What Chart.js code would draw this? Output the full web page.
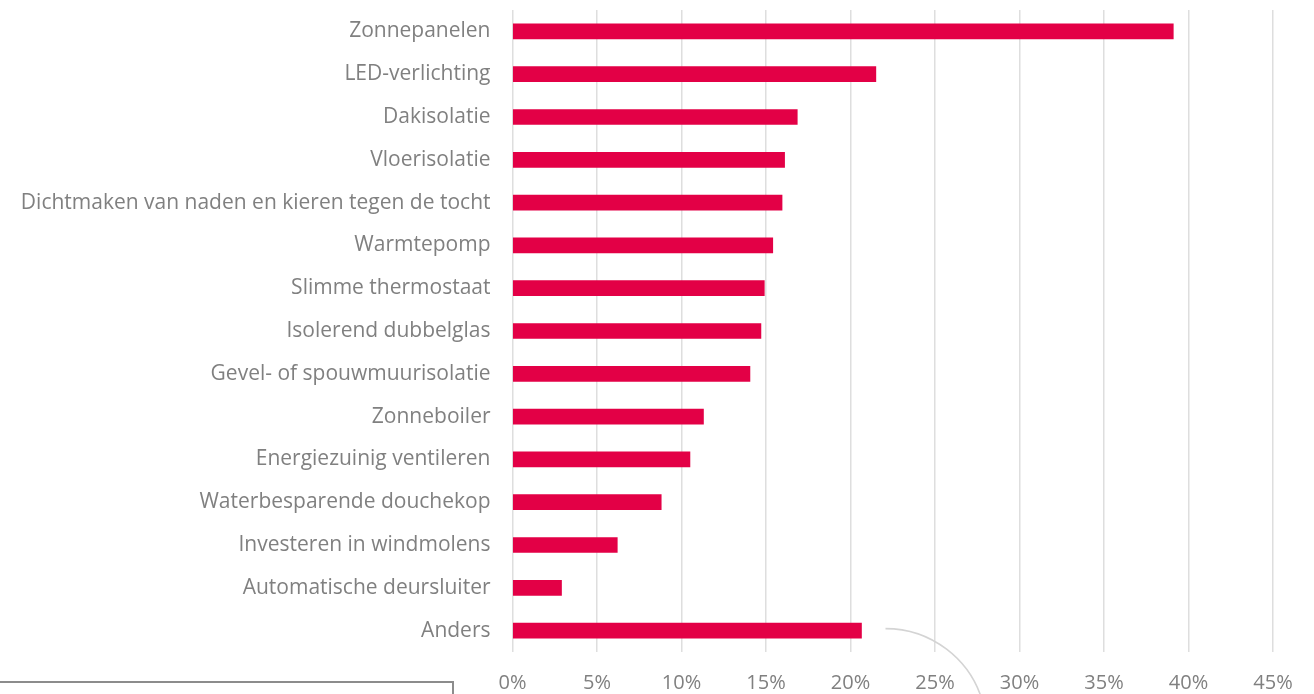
<!DOCTYPE html>
<html>
<head>
<meta charset="utf-8">
<script src="https://cdn.jsdelivr.net/npm/chart.js@4"></script>
<style>
  html, body { margin: 0; padding: 0; background: #ffffff; }
  #wrap { position: relative; width: 1314px; height: 694px; }
</style>
</head>
<body>
<div id="wrap"><canvas id="c" width="1314" height="694"></canvas></div>
<script>
const categories = [
  "Zonnepanelen",
  "LED-verlichting",
  "Dakisolatie",
  "Vloerisolatie",
  "Dichtmaken van naden en kieren tegen de tocht",
  "Warmtepomp",
  "Slimme thermostaat",
  "Isolerend dubbelglas",
  "Gevel- of spouwmuurisolatie",
  "Zonneboiler",
  "Energiezuinig ventileren",
  "Waterbesparende douchekop",
  "Investeren in windmolens",
  "Automatische deursluiter",
  "Anders"
];
const values = [39.1, 21.5, 16.85, 16.1, 15.95, 15.4, 14.9, 14.7, 14.05, 11.3, 10.5, 8.8, 6.2, 2.9, 20.65];
const xTicks = [0, 5, 10, 15, 20, 25, 30, 35, 40, 45];

const barColor = "#e30046";
const textColor = "#808080";
const gridColor = "#dedede";
const fontFamily = "'Open Sans', 'Noto Sans', sans-serif";

const decorPlugin = {
  id: "decor",
  afterDraw(chart) {
    const ctx = chart.ctx;
    const meta = chart.getDatasetMeta(0);
    const last = meta.data[meta.data.length - 1];
    ctx.save();
    const sx = last.x + 24, sy = last.y - 2;
    const r = 101;
    ctx.strokeStyle = "#d4d4d4";
    ctx.lineWidth = 1.6;
    ctx.beginPath();
    ctx.arc(sx, sy + r, r, -Math.PI / 2, -Math.PI / 2 + 1.3, false);
    ctx.stroke();
    ctx.strokeStyle = "#8c8c8c";
    ctx.lineWidth = 2;
    ctx.strokeRect(-2, 682, 455, 40);
    ctx.restore();
  }
};

new Chart(document.getElementById("c"), {
  type: "bar",
  data: {
    labels: categories,
    datasets: [{
      data: values,
      backgroundColor: barColor,
      borderWidth: 0,
      barThickness: 15
    }]
  },
  options: {
    indexAxis: "y",
    responsive: false,
    animation: false,
    layout: { padding: { top: 10, right: 41, left: 0, bottom: 0 } },
    plugins: { legend: { display: false }, tooltip: { enabled: false } },
    scales: {
      x: {
        min: 0,
        max: 45,
        afterBuildTicks(axis) { axis.ticks = xTicks.map(v => ({ value: v })); },
        grid: { color: gridColor, lineWidth: 1.5, drawTicks: false },
        border: { display: false },
        ticks: {
          color: textColor,
          padding: 19,
          maxRotation: 0,
          autoSkip: false,
          font: { family: fontFamily, size: 20 },
          callback: v => v + "%"
        },
        afterFit(axis) { axis.height = 42; axis.paddingLeft = 0; axis.paddingRight = 0; }
      },
      y: {
        grid: { display: false, drawTicks: false },
        border: { display: false },
        ticks: {
          color: textColor,
          padding: 22,
          autoSkip: false,
          font: { family: fontFamily, size: 21 }
        },
        afterFit(axis) { axis.width = 512.5; axis.paddingTop = 0; axis.paddingBottom = 0; }
      }
    }
  },
  plugins: [decorPlugin]
});
</script>
</body>
</html>
